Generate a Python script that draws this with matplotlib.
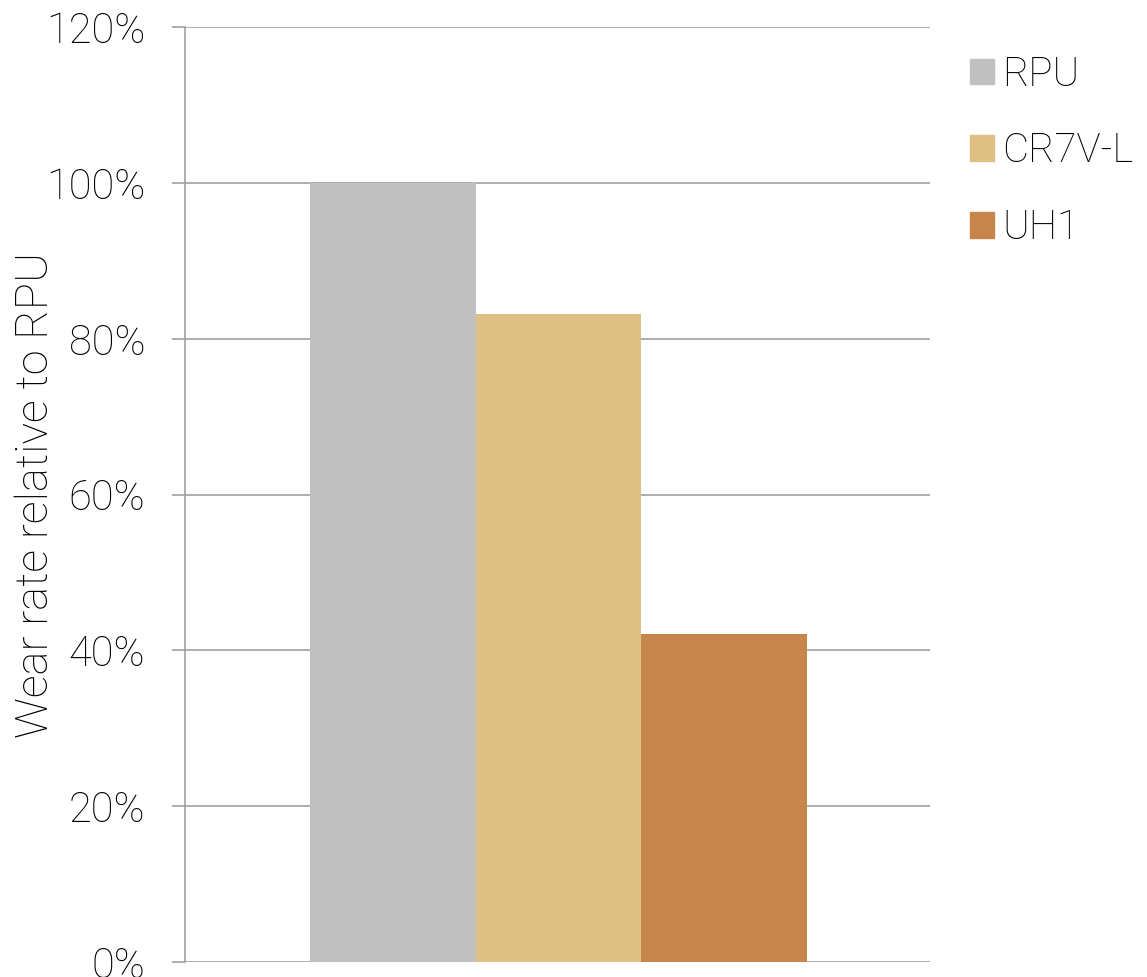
import matplotlib
matplotlib.use("Agg")
import matplotlib.pyplot as plt
from matplotlib.ticker import FuncFormatter
from matplotlib import font_manager

categories = ["RPU", "CR7V-L", "UH1"]
values = [100.0, 83.2, 42.1]
colors = ["#c0c0c0", "#dfc084", "#c6854b"]
yticks = [0, 20, 40, 60, 80, 100, 120]

names = {f.name for f in font_manager.fontManager.ttflist}
fam = [n for n in ["Roboto", "Lato", "Open Sans", "DejaVu Sans"] if n in names]
plt.rcParams['font.family'] = fam
plt.rcParams['font.weight'] = 'light'
plt.rcParams['axes.labelweight'] = 'light'

W, H = 1147, 977
fig = plt.figure(figsize=(W / 100, H / 100), dpi=100)
ax = fig.add_axes([185 / W, (H - 962) / H, (930 - 185) / W, (962 - 27) / H])

x = list(range(len(categories)))
bars = ax.bar(x, values, width=1.0, color=colors, zorder=2, label=categories)

ax.set_xlim(-1.258, 3.245)
ax.set_ylim(0, 120)
ax.set_yticks(yticks)
ax.yaxis.set_major_formatter(FuncFormatter(lambda v, p: f"{int(v)}%"))
ax.set_xticks([])
ax.grid(axis='y', color='#999999', linewidth=1.1, zorder=1)
ax.set_axisbelow(True)
for s in ['top', 'right', 'bottom']:
    ax.spines[s].set_visible(False)
ax.spines['left'].set_color('#999999')
ax.spines['left'].set_linewidth(1.1)
ax.tick_params(axis='y', length=9.5, width=1.1, color='#999999', pad=19,
               labelsize=30, labelcolor='#000000')
ax.set_ylabel("Wear rate relative to RPU", fontsize=32.5, color='#000000',
              fontweight='light')
ax.yaxis.set_label_coords(-0.172, 0.5)

handles = [plt.Rectangle((0, 0), 1, 1, color=c) for c in colors]
leg = fig.legend(handles, categories, loc='upper left',
                 bbox_to_anchor=(970 / W, 1 - 55 / H), frameon=False,
                 fontsize=29, handlelength=0.6, handleheight=0.6,
                 handletextpad=0.2, labelspacing=0.95, borderaxespad=0,
                 borderpad=0)
for t in leg.get_texts():
    t.set_color('#000000')

fig.savefig("out.png", dpi=100)
